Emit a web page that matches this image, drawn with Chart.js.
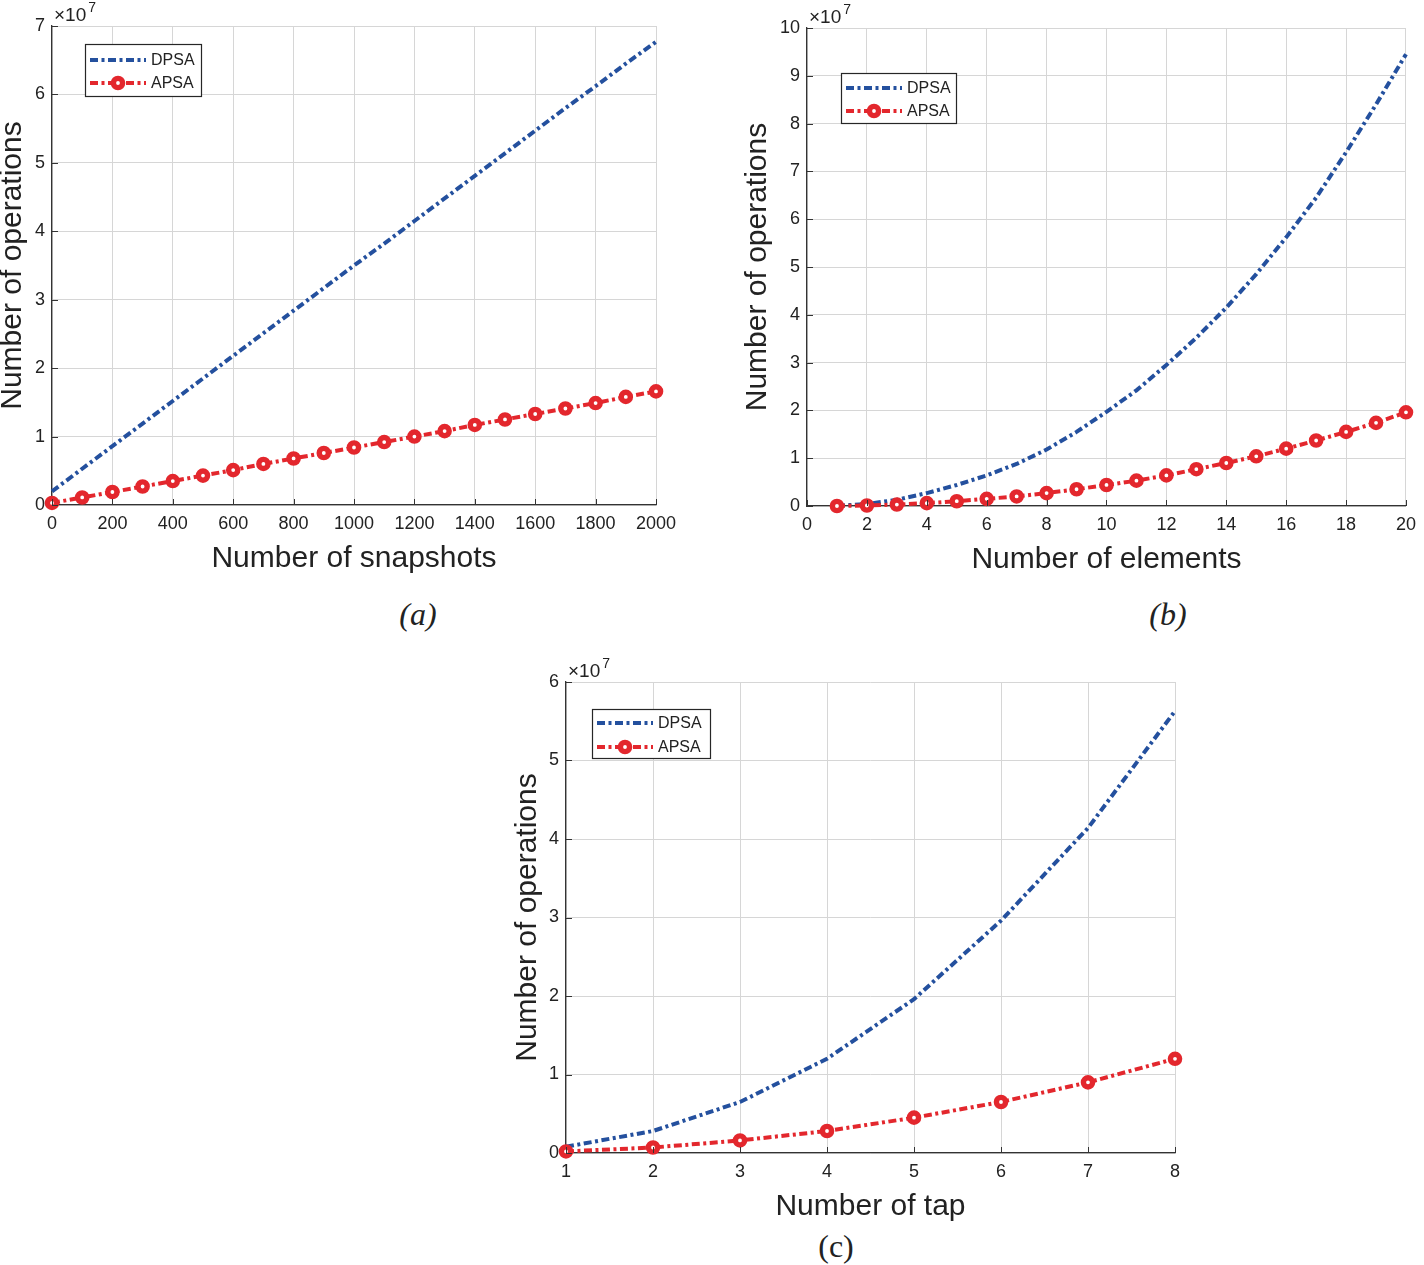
<!DOCTYPE html>
<html><head><meta charset="utf-8">
<script src="https://cdn.jsdelivr.net/npm/chart.js@4.4.1/dist/chart.umd.min.js"></script>
<style>
html,body{margin:0;padding:0;background:#fff;}
#page{position:relative;width:1424px;height:1265px;overflow:hidden;background:#fff;}
.wrap{position:absolute;}
.cap{position:absolute;font-family:"Liberation Serif","Times New Roman",serif;font-size:32px;color:#222;transform:translate(-50%,-50%);white-space:nowrap;line-height:1;}
</style></head><body>
<div id="page">
  <div class="wrap" style="left:-2px;top:0px;"><canvas id="cA" width="700" height="580" style="width:700px;height:580px"></canvas></div>
  <div class="wrap" style="left:743px;top:0px;"><canvas id="cB" width="681" height="581" style="width:681px;height:581px"></canvas></div>
  <div class="wrap" style="left:513px;top:650px;"><canvas id="cC" width="700" height="578" style="width:700px;height:578px"></canvas></div>
  <div class="cap" style="left:418px;top:614px;font-style:italic">(a)</div>
  <div class="cap" style="left:1168px;top:614px;font-style:italic">(b)</div>
  <div class="cap" style="left:836px;top:1246px;">(c)</div>
</div>
<script>
// ---- data (values in units of 1e7) ----
const snapshots = [0,100,200,300,400,500,600,700,800,900,1000,1100,1200,1300,1400,1500,1600,1700,1800,1900,2000];
const dpsaA = [0.20,0.53,0.86,1.19,1.52,1.85,2.18,2.51,2.84,3.17,3.50,3.82,4.15,4.48,4.81,5.14,5.47,5.80,6.12,6.45,6.77];
const apsaA = [0.03,0.11,0.19,0.27,0.35,0.43,0.51,0.60,0.68,0.76,0.84,0.92,1.00,1.08,1.17,1.25,1.33,1.41,1.49,1.58,1.66];

const elements = [1,2,3,4,5,6,7,8,9,10,11,12,13,14,15,16,17,18,19,20];
const dpsaB = [0.005,0.04,0.13,0.27,0.44,0.64,0.88,1.18,1.55,1.97,2.42,2.95,3.52,4.15,4.85,5.62,6.45,7.40,8.40,9.45];
const apsaB = [0.00,0.01,0.03,0.06,0.10,0.15,0.20,0.27,0.35,0.44,0.53,0.64,0.77,0.90,1.04,1.20,1.37,1.55,1.74,1.96];

const taps = [1,2,3,4,5,6,7,8];
const dpsaC = [0.08,0.28,0.65,1.20,1.96,2.96,4.14,5.63];
const apsaC = [0.02,0.07,0.16,0.28,0.45,0.65,0.90,1.20];

const xTicksA = [0,200,400,600,800,1000,1200,1400,1600,1800,2000];
const yTicksA = [0,1,2,3,4,5,6,7];
const xTicksB = [0,2,4,6,8,10,12,14,16,18,20];
const yTicksB = [0,1,2,3,4,5,6,7,8,9,10];
const xTicksC = [1,2,3,4,5,6,7,8];
const yTicksC = [0,1,2,3,4,5,6];

const seriesNames = ['DPSA','APSA'];
const yTitle = 'Number of operations';

// ---- styles ----
const BLUE = '#24509e';
const RED = '#e3272d';
const GRID = '#d6d6d6';
const AXIS = '#333333';
const TXT = '#222222';
const FONT = '"Liberation Sans", Arial, Helvetica, sans-serif';
const DASH = [8, 3.5, 3, 3.5];

const deco = {
  id: 'deco',
  afterDraw(chart, args, opts) {
    const ctx = chart.ctx;
    const a = chart.chartArea;
    const xs = chart.scales.x, ys = chart.scales.y;
    ctx.save();
    // inward tick marks
    ctx.strokeStyle = AXIS; ctx.lineWidth = 1;
    ctx.beginPath();
    xs.ticks.forEach(t => { const p = Math.round(xs.getPixelForValue(t.value)) + 0.5; ctx.moveTo(p, a.bottom); ctx.lineTo(p, a.bottom - 6); });
    ys.ticks.forEach(t => { const p = Math.round(ys.getPixelForValue(t.value)) + 0.5; ctx.moveTo(a.left, p); ctx.lineTo(a.left + 6, p); });
    ctx.stroke();
    // exponent label
    ctx.fillStyle = TXT;
    ctx.textBaseline = 'alphabetic'; ctx.textAlign = 'left';
    ctx.font = '19px ' + FONT;
    const base = a.top - 5;
    ctx.fillText('\u00d710', a.left + 2, base);
    const w = ctx.measureText('\u00d710').width;
    ctx.font = '14px ' + FONT;
    ctx.fillText('7', a.left + 4 + w, base - 9);
    // legend box
    const bx = a.left + opts.dx, by = a.top + opts.dy, bw = opts.w, bh = opts.h;
    ctx.fillStyle = '#fff';
    ctx.fillRect(bx, by, bw, bh);
    ctx.strokeStyle = '#262626'; ctx.lineWidth = 1.2;
    ctx.strokeRect(bx + 0.5, by + 0.5, bw - 1, bh - 1);
    const rows = [by + opts.r1, by + opts.r2];
    const ds = chart.data.datasets;
    [0,1].forEach(i => {
      const d = ds[i];
      const y = rows[i];
      ctx.save();
      ctx.strokeStyle = d.borderColor; ctx.lineWidth = d.borderWidth;
      ctx.setLineDash(DASH);
      ctx.beginPath(); ctx.moveTo(bx + 5, y); ctx.lineTo(bx + 61, y); ctx.stroke();
      ctx.restore();
      if (d.pointRadius > 0) {
        ctx.beginPath(); ctx.arc(bx + 33, y, d.pointRadius, 0, Math.PI * 2);
        ctx.fillStyle = '#fff'; ctx.fill();
        ctx.lineWidth = d.pointBorderWidth; ctx.strokeStyle = d.pointBorderColor; ctx.stroke();
      }
      ctx.fillStyle = TXT; ctx.font = '16px ' + FONT;
      ctx.textBaseline = 'middle'; ctx.textAlign = 'left';
      ctx.fillText(d.label, bx + 66, y + 1);
    });
    ctx.restore();
  }
};

function pts(xs, ys) { return xs.map((x, i) => ({ x: x, y: ys[i] })); }

function makeChart(id, c) {
  return new Chart(document.getElementById(id), {
    type: 'line',
    data: {
      datasets: [
        { label: seriesNames[0], data: pts(c.xs, c.dpsa), borderColor: BLUE, borderWidth: 4, borderDash: DASH,
          pointRadius: 0, fill: false, tension: 0, clip: false, order: 2 },
        { label: seriesNames[1], data: pts(c.xs, c.apsa), borderColor: RED, borderWidth: 4, borderDash: DASH,
          pointRadius: 4.6, pointBorderWidth: 5.4, pointBackgroundColor: '#fff', pointBorderColor: RED,
          fill: false, tension: 0, clip: false, order: 1 }
      ]
    },
    options: {
      responsive: false, animation: false, events: [],
      layout: { padding: { left: 0, right: c.padRight, top: c.padTop, bottom: 0 } },
      plugins: { legend: { display: false }, tooltip: { enabled: false }, deco: c.legend },
      scales: {
        x: {
          type: 'linear', min: c.xTicks[0], max: c.xTicks[c.xTicks.length - 1],
          afterBuildTicks: s => { s.ticks = c.xTicks.map(v => ({ value: v })); },
          afterFit: s => { s.height = 75; },
          grid: { color: GRID, lineWidth: 1, drawTicks: false },
          border: { color: AXIS, width: 1.3 },
          ticks: { font: { family: FONT, size: 18 }, color: TXT, padding: 8, maxRotation: 0, autoSkip: false,
                   callback: v => String(v) },
          title: { display: true, text: c.xTitle, color: TXT, font: { family: FONT, size: 30 }, padding: { top: 0, bottom: 3 } }
        },
        y: {
          type: 'linear', min: c.yTicks[0], max: c.yTicks[c.yTicks.length - 1],
          afterBuildTicks: s => { s.ticks = c.yTicks.map(v => ({ value: v })); },
          afterFit: s => { s.width = c.yWidth; },
          grid: { color: GRID, lineWidth: 1, drawTicks: false },
          border: { color: AXIS, width: 1.3 },
          ticks: { font: { family: FONT, size: 18 }, color: TXT, padding: 7, callback: v => String(v) },
          title: { display: true, text: yTitle, color: TXT, font: { family: FONT, size: 30, lineHeight: 1 }, padding: 0 }
        }
      }
    },
    plugins: [deco]
  });
}

makeChart('cA', { xs: snapshots, dpsa: dpsaA, apsa: apsaA, xTicks: xTicksA, yTicks: yTicksA,
  xTitle: 'Number of snapshots', yWidth: 54, padRight: 42, padTop: 26,
  legend: { dx: 33, dy: 18, w: 117, h: 53, r1: 16, r2: 39 } });
makeChart('cB', { xs: elements, dpsa: dpsaB, apsa: apsaB, xTicks: xTicksB, yTicks: yTicksB,
  xTitle: 'Number of elements', yWidth: 64, padRight: 16, padTop: 28,
  legend: { dx: 34, dy: 45, w: 116, h: 51, r1: 15, r2: 38 } });
makeChart('cC', { xs: taps, dpsa: dpsaC, apsa: apsaC, xTicks: xTicksC, yTicks: yTicksC,
  xTitle: 'Number of tap', yWidth: 53, padRight: 38, padTop: 32,
  legend: { dx: 26, dy: 27, w: 119, h: 50, r1: 14, r2: 38 } });
</script>
</body></html>
